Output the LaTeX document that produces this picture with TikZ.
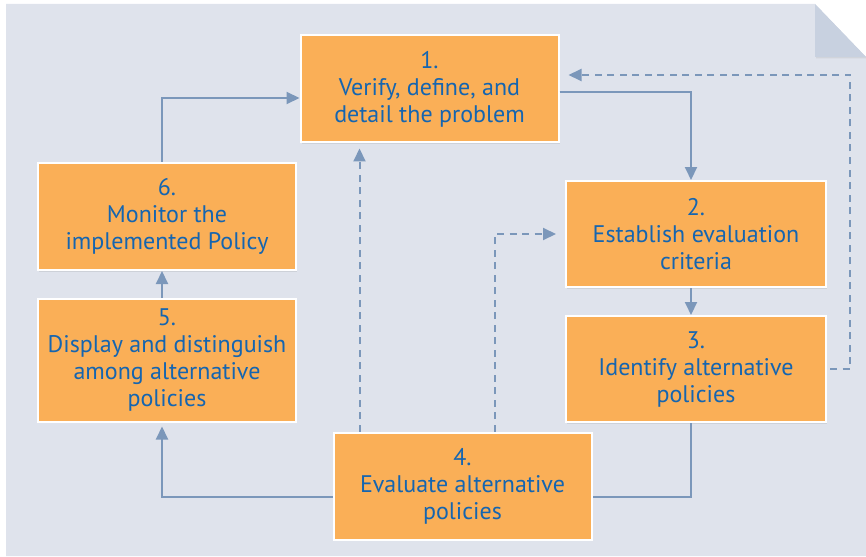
\documentclass[tikz,border=0pt]{standalone}
\usepackage{fontspec}
\setmainfont{PT Sans}
\usepackage{tikz}
\usetikzlibrary{arrows.meta,shadows}
\definecolor{pagebg}{HTML}{DFE3EC}
\definecolor{pagefold}{HTML}{C8D1E0}
\definecolor{boxfill}{HTML}{FAAF57}
\definecolor{boxtext}{HTML}{1565B0}
\definecolor{linkcol}{HTML}{7B97BA}
\tikzset{
  stepbox/.style={draw=white, line width=2pt, fill=boxfill, text=boxtext,
    align=center, inner sep=0pt, minimum width=258pt,
    font=\fontsize{24}{27}\selectfont,
    drop shadow={opacity=0.18, shadow xshift=1pt, shadow yshift=-1.5pt}},
  link/.style={draw=linkcol, line width=2pt, >={Triangle[length=13pt,width=12pt]}},
  dlink/.style={link, dash pattern=on 7pt off 5.5pt}
}

\begin{document}
\begin{tikzpicture}[x=1pt,y=-1pt]
    \useasboundingbox (0,0) rectangle (866,556);
    % page with folded corner
    \fill[pagebg] (6,4) -- (815,4) -- (866,57) -- (866,556) -- (6,556) -- cycle;
    \fill[pagefold, drop shadow={opacity=0.15, shadow xshift=1pt, shadow yshift=-1.5pt}]
      (815,4) -- (815,57) -- (866,57) -- cycle;

    \node[stepbox, minimum height=107pt] (b1) at (429.5, 89) {1.\\Verify, define, and\\detail the problem};
    \node[stepbox, minimum width=260pt, minimum height=106pt] (b2) at (696, 234) {2.\\Establish evaluation\\criteria};
    \node[stepbox, minimum width=260pt, minimum height=106pt] (b3) at (696, 369) {3.\\Identify alternative\\policies};
    \node[stepbox, minimum height=107pt] (b4) at (462.5, 486) {4.\\Evaluate alternative\\policies};
    \node[stepbox, minimum height=123pt] (b5) at (167, 360) {5.\\Display and distinguish\\among alternative\\policies};
    \node[stepbox, minimum height=107pt] (b6) at (167, 216.5) {6.\\Monitor the\\implemented Policy};

    % main cycle
    \draw[link,->] ([yshift=-3pt]b1.east) -| ([xshift=-5pt]b2.north);
    \draw[link,->] ([xshift=-5pt]b2.south) -- ([xshift=-5pt]b3.north);
    \draw[link] ([xshift=-5pt]b3.south) |- ([yshift=-11pt]b4.east);
    \draw[link,->, shorten >=4pt] ([yshift=-11pt]b4.west) -| ([xshift=-5pt]b5.south);
    \draw[link,->] ([xshift=-5pt]b5.north) -- ([xshift=-5pt]b6.south);
    \draw[link,->] ([xshift=-5pt]b6.north) |- ([yshift=-9pt]b1.west);

    % feedback
    \draw[dlink,->, shorten >=5pt] ([xshift=-103pt]b4.north) -- ([xshift=-70pt]b1.south);
    \draw[dlink,->, shorten >=9pt] ([xshift=32pt]b4.north) |- (b2.west);
    \draw[dlink,->, shorten <=3pt, shorten >=9pt] (b3.east) -- ++(23,0) |- ([yshift=14pt]b1.east);
\end{tikzpicture}
\end{document}
